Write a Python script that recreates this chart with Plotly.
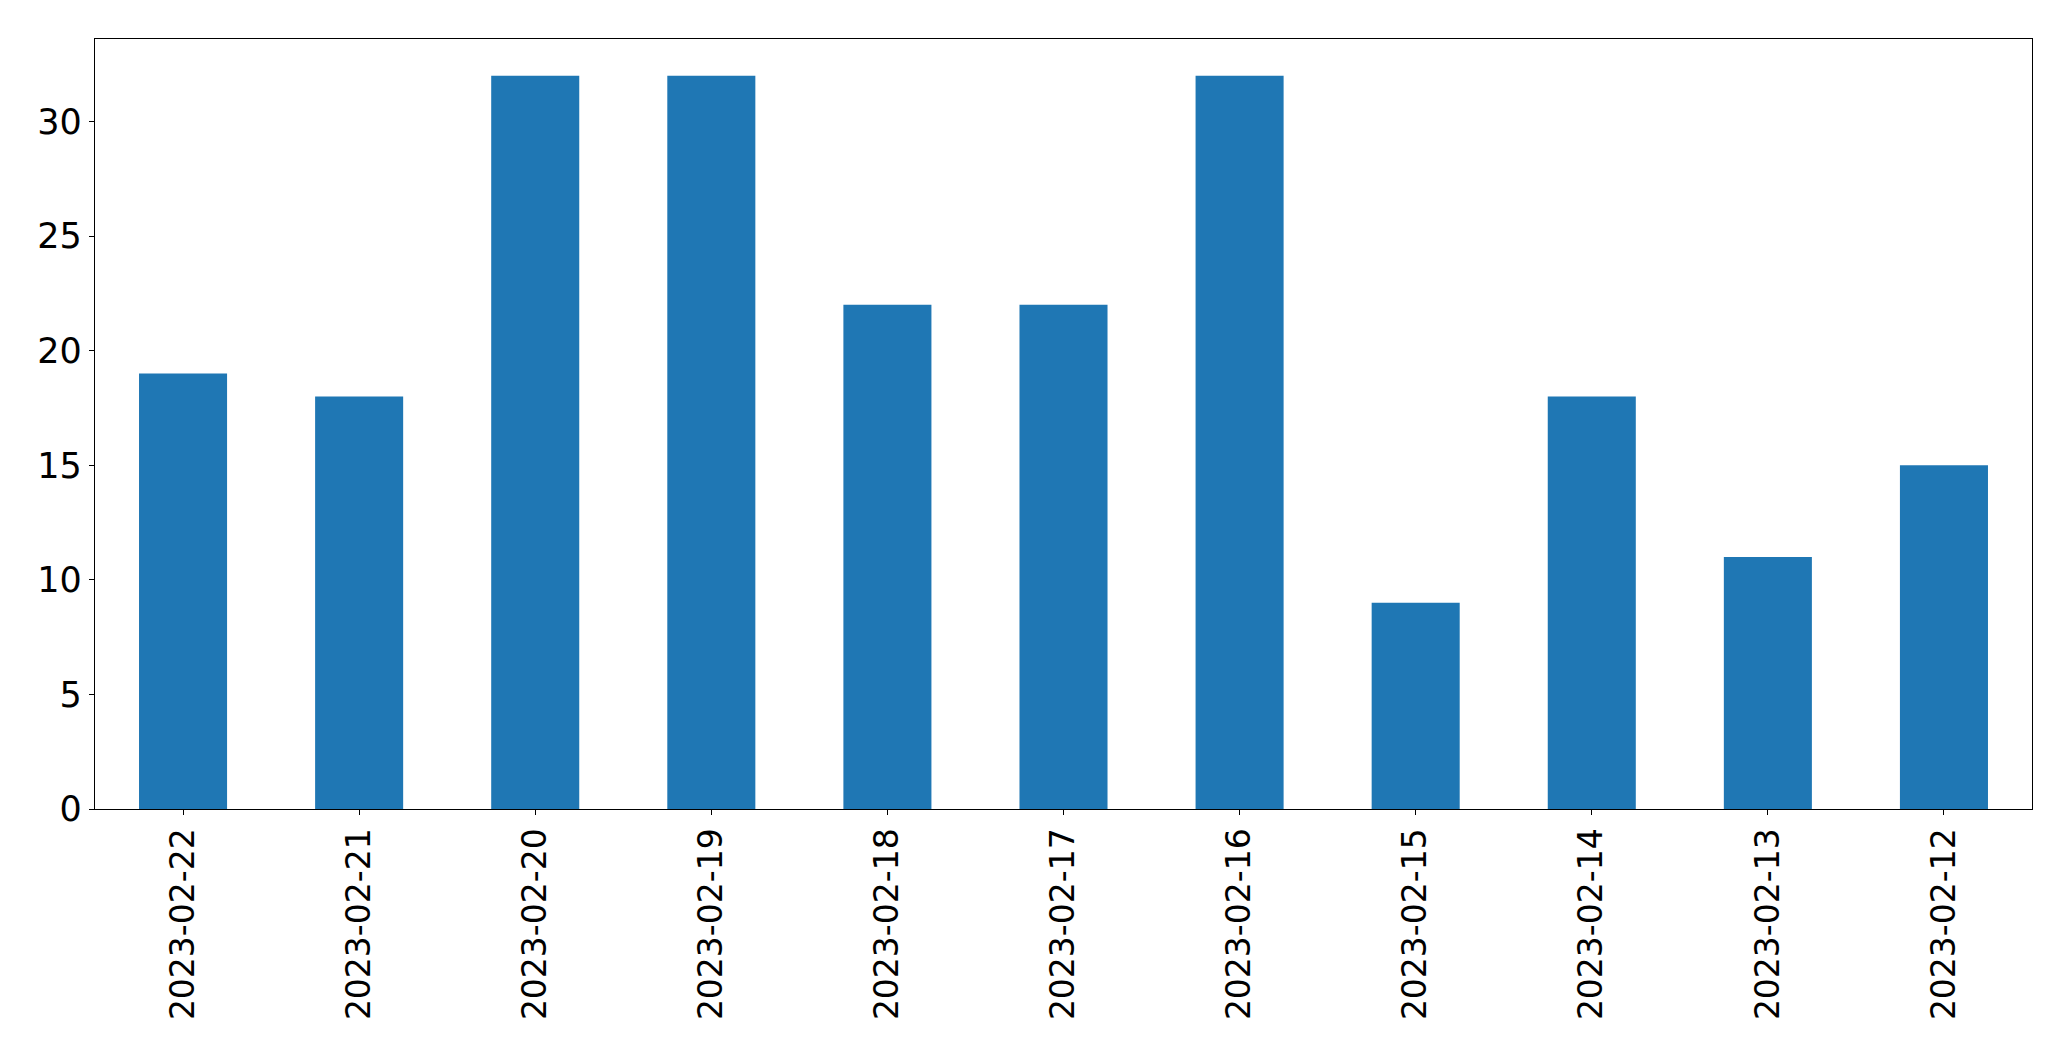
import plotly.graph_objects as go

# Daily counts, in the order shown (newest first)
dates = ['2023-02-22', '2023-02-21', '2023-02-20', '2023-02-19', '2023-02-18',
         '2023-02-17', '2023-02-16', '2023-02-15', '2023-02-14', '2023-02-13',
         '2023-02-12']
counts = [19, 18, 32, 32, 22, 22, 32, 9, 18, 11, 15]
y_ticks = [0, 5, 10, 15, 20, 25, 30]

fig = go.Figure()

fig.add_trace(go.Bar(
    x=dates,
    y=counts,
    marker=dict(color='#1f77b4', line=dict(width=0)),
    hovertemplate='<b>%{x}</b><br>Count: %{y}<extra></extra>'
))

axis_style = dict(
    showline=True,
    linecolor='black',
    linewidth=1.3,
    mirror=True,
    ticks='outside',
    ticklen=5,
    tickwidth=1.3,
    tickcolor='black',
    showgrid=False,
    zeroline=False,
)

# page body adds an 8px margin, so the figure is sized to fit inside it
fig.update_layout(
    width=2055,
    height=1045,
    margin=dict(l=87, r=31, t=31, b=244),
    paper_bgcolor='white',
    plot_bgcolor='white',
    bargap=0.5,
    showlegend=False,
    xaxis=dict(type='category', tickangle=-90, range=[-0.5, len(dates) - 0.5],
               tickfont=dict(family='DejaVu Sans', size=33, color='black'), **axis_style),
    yaxis=dict(range=[0, max(counts) * 1.05], tickvals=y_ticks,
               tickfont=dict(family='DejaVu Sans', size=35, color='black'), **axis_style),
)

fig.write_html("out.html")
